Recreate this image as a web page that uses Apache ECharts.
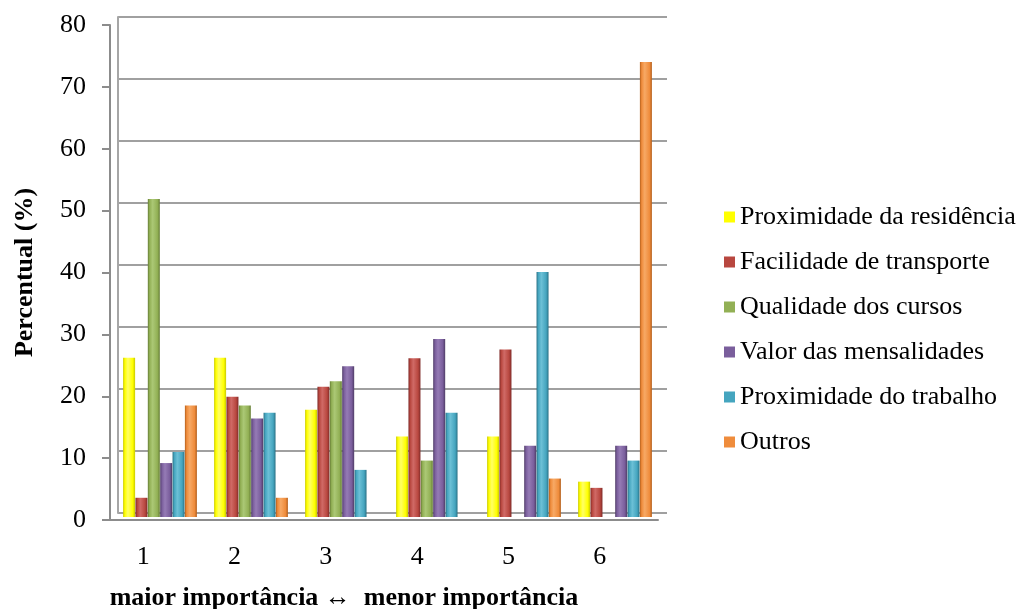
<!DOCTYPE html>
<html>
<head>
<meta charset="utf-8">
<script src="https://cdn.jsdelivr.net/npm/echarts@6/dist/echarts.min.js"></script>
<style>
html,body{margin:0;padding:0;background:#fff;}
#chart{width:1022px;height:609px;}
</style>
</head>
<body>
<div id="chart"></div>
<script>
const categories = ['1', '2', '3', '4', '5', '6'];
const seriesNames = ['Proximidade da residência', 'Facilidade de transporte', 'Qualidade dos cursos', 'Valor das mensalidades', 'Proximidade do trabalho', 'Outros'];
const proximidadeResidencia = [25.7, 25.7, 17.3, 13.0, 13.0, 5.7];
const facilidadeTransporte = [3.1, 19.4, 21.0, 25.6, 27.0, 4.7];
const qualidadeCursos = [51.3, 18.0, 21.9, 9.1, 0, 0];
const valorMensalidades = [8.7, 15.9, 24.3, 28.7, 11.5, 11.5];
const proximidadeTrabalho = [10.5, 16.8, 7.6, 16.8, 39.5, 9.1];
const outros = [18.0, 3.1, 0, 0, 6.2, 73.4];
const yTicks = { min: 0, max: 80, interval: 10 };

const values = [proximidadeResidencia, facilidadeTransporte, qualidadeCursos, valorMensalidades, proximidadeTrabalho, outros];
// [edge, body, highlight]
const colors = [
  ['#c9c900', '#ffff00', '#ffff66'],
  ['#7e2a28', '#b8473f', '#d06a66'],
  ['#657d35', '#92b055', '#abc875'],
  ['#4f3c66', '#7a5e9c', '#957bb5'],
  ['#2a7185', '#45a5bf', '#6cc0d6'],
  ['#b35f1c', '#ef8c3c', '#f7a965']
];
const font = 'Liberation Serif';
const axisGray = '#8c8c8c';

const chart = echarts.init(document.getElementById('chart'), null, { renderer: 'canvas' });
chart.setOption({
  animation: false,
  backgroundColor: '#ffffff',
  color: colors.map(c => c[1]),
  grid: [
    { left: 110, width: 548, top: 25, bottom: 89, containLabel: false, outerBoundsMode: 'none' },   // front
    { left: 118, width: 549, top: 17, bottom: 96, containLabel: false, outerBoundsMode: 'none' },   // back wall
    { left: 114.5, width: 546, top: 21, bottom: 92, containLabel: false, outerBoundsMode: 'none' }  // bars (mid depth)
  ],
  legend: {
    orient: 'vertical',
    left: 719,
    top: 197,
    itemWidth: 11,
    itemHeight: 11,
    itemGap: 15,
    icon: 'rect',
    data: seriesNames.map((n, i) => ({ name: n, itemStyle: { color: colors[i][1] } })),
    textStyle: { fontFamily: font, fontSize: 26, color: '#000', lineHeight: 30 }
  },
  xAxis: [
    {
      gridIndex: 0, type: 'category', data: categories,
      name: 'maior importância \u2194  menor importância',
      nameLocation: 'middle', nameGap: 65,
      nameTextStyle: { fontFamily: font, fontSize: 26, fontWeight: 'bold', color: '#000', padding: [0, 80, 0, 0] },
      axisLine: { show: true, onZero: false, lineStyle: { color: axisGray, width: 2 } },
      axisTick: { show: false },
      axisLabel: { fontFamily: font, fontSize: 26, color: '#000', margin: 24, padding: [0, 25, 0, 0] },
      splitLine: { show: false }
    },
    {
      gridIndex: 1, type: 'category', data: categories,
      axisLine: { show: false }, axisTick: { show: false }, axisLabel: { show: false }, splitLine: { show: false }
    },
    {
      gridIndex: 2, type: 'category', data: categories,
      axisLine: { show: false }, axisTick: { show: false }, axisLabel: { show: false }, splitLine: { show: false }
    }
  ],
  yAxis: [
    {
      gridIndex: 0, type: 'value', min: yTicks.min, max: yTicks.max, interval: yTicks.interval,
      name: 'Percentual (%)', nameLocation: 'middle', nameGap: 72, nameRotate: 90,
      nameTextStyle: { fontFamily: font, fontSize: 26, fontWeight: 'bold', color: '#000' },
      axisLine: { show: true, onZero: false, lineStyle: { color: axisGray, width: 2 } },
      axisTick: { show: true, length: 8, inside: false, lineStyle: { color: axisGray, width: 2 } },
      axisLabel: { fontFamily: font, fontSize: 26, color: '#000', margin: 24 },
      splitLine: { show: false }
    },
    {
      gridIndex: 1, type: 'value', min: yTicks.min, max: yTicks.max, interval: yTicks.interval,
      axisLine: { show: true, onZero: false, lineStyle: { color: '#a6a6a6', width: 2 } },
      axisTick: { show: false }, axisLabel: { show: false },
      splitLine: { show: true, lineStyle: { color: '#a0a0a0', width: 2 } }
    },
    {
      gridIndex: 2, type: 'value', min: yTicks.min, max: yTicks.max, interval: yTicks.interval,
      axisLine: { show: false }, axisTick: { show: false }, axisLabel: { show: false }, splitLine: { show: false }
    }
  ],
  series: seriesNames.map((name, i) => ({
    name: name,
    type: 'bar',
    xAxisIndex: 2,
    yAxisIndex: 2,
    data: values[i],
    barWidth: 12,
    barGap: '3%',
    z: 5,
    itemStyle: {
      color: {
        type: 'linear', x: 0, y: 0, x2: 1, y2: 0,
        colorStops: [
          { offset: 0, color: colors[i][0] },
          { offset: 0.15, color: colors[i][1] },
          { offset: 0.4, color: colors[i][2] },
          { offset: 0.8, color: colors[i][1] },
          { offset: 1, color: colors[i][0] }
        ]
      },
      borderWidth: 0
    }
  }))
});
</script>
</body>
</html>
